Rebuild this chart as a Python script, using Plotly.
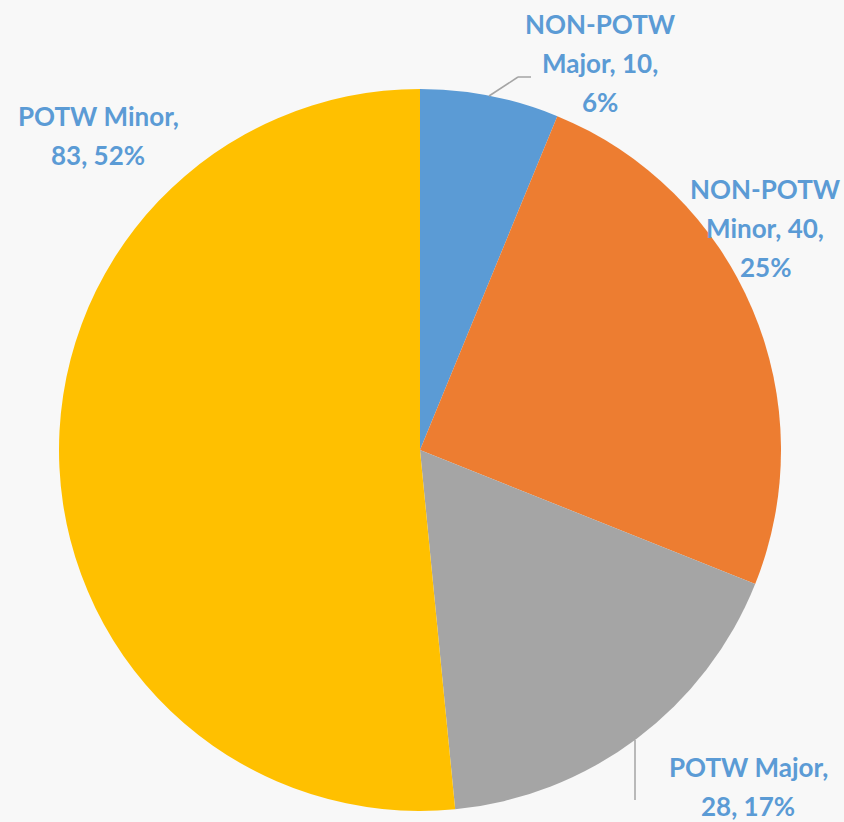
import plotly.graph_objects as go

categories = ["NON-POTW Major", "NON-POTW Minor", "POTW Major", "POTW Minor"]
values = [10, 40, 28, 83]
colors = ["#5B9BD5", "#ED7D31", "#A5A5A5", "#FFC000"]

W, H = 844, 822
total = sum(values)
pcts = [round(v / total * 100) for v in values]

# label lines (text built from data), line break positions as in reference
label_lines = [
    ["NON-POTW", f"Major, {values[0]},", f"{pcts[0]}%"],
    ["NON-POTW", f"Minor, {values[1]},", f"{pcts[1]}%"],
    [f"POTW Major,", f"{values[2]}, {pcts[2]}%"],
    [f"POTW Minor,", f"{values[3]}, {pcts[3]}%"],
]
label_pos = [(600, 24), (765, 189), (748, 767), (98, 116)]
line_gap = 39

cx, cy, r = 420, 450, 361

fig = go.Figure()
fig.add_trace(go.Pie(
    labels=categories, values=values, sort=False, direction="clockwise",
    rotation=0, marker=dict(colors=colors, line=dict(width=0)),
    textinfo="none", hoverinfo="label+value+percent", showlegend=False,
    domain=dict(x=[(cx - r) / W, (cx + r) / W], y=[1 - (cy + r) / H, 1 - (cy - r) / H]),
))

annotations = []
for lines, (x0, y0) in zip(label_lines, label_pos):
    for i, t in enumerate(lines):
        annotations.append(dict(
            x=x0 / W, y=1 - (y0 + i * line_gap) / H, xref="paper", yref="paper",
            text=t, showarrow=False, xanchor="center", yanchor="middle",
            font=dict(family="Lato", size=26, color="#5B9BD5", weight="bold"),
        ))

def P(x, y):
    return x / W, 1 - y / H

shapes = []
# leader line for NON-POTW Major
pts = [(489, 96), (518, 77), (531, 77)]
for (a, b), (c, d) in zip(pts[:-1], pts[1:]):
    x0, y0 = P(a, b); x1, y1 = P(c, d)
    shapes.append(dict(type="line", xref="paper", yref="paper", x0=x0, y0=y0, x1=x1, y1=y1,
                       line=dict(color="#A5A5A5", width=1.5)))
# leader line for POTW Major
x0, y0 = P(635, 740); x1, y1 = P(635, 800)
shapes.append(dict(type="line", xref="paper", yref="paper", x0=x0, y0=y0, x1=x1, y1=y1,
                   line=dict(color="#A5A5A5", width=1.5)))

fig.update_layout(
    width=W, height=H, margin=dict(l=0, r=0, t=0, b=0),
    paper_bgcolor="#F8F8F8", plot_bgcolor="#F8F8F8",
    annotations=annotations, shapes=shapes,
)

fig.write_html("out.html", config={"displayModeBar": False},
               post_script="document.body.style.margin='0';document.body.style.overflow='hidden';")
